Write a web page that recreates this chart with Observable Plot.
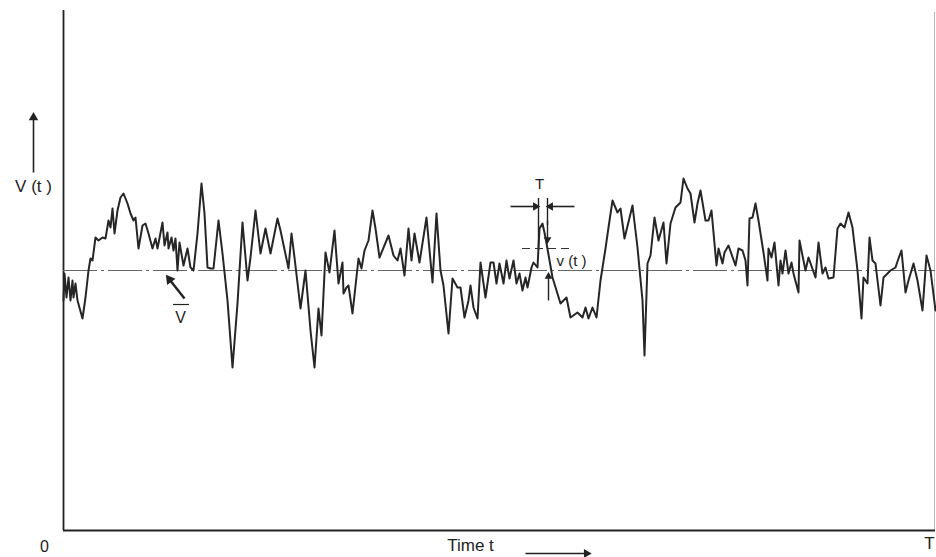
<!DOCTYPE html>
<html>
<head>
<meta charset="utf-8">
<script src="https://cdn.jsdelivr.net/npm/d3@7"></script>
<script src="https://cdn.jsdelivr.net/npm/@observablehq/plot@0.6"></script>
<style>
  html, body { margin: 0; padding: 0; background: #fff; }
  #chart svg { display: block; }
</style>
</head>
<body>
<div id="chart"></div>
<script>
// Time axis runs from 0 to T (arbitrary units), velocity V(t) in arbitrary units
const tMax = 872;
const vMax = 52;
const meanV = 26;

const times = [
  0,1,3,5,7,9,10,12,14,19,22,25,27,29,32,35,39,42,45,47,49,51,54,57,60,64,67,70,72,75,
  79,82,85,89,92,94,99,101,104,105,108,110,112,114,116,120,124,127,130,134,138,141,144,147,150,155,159,164,169,174,
  179,184,187,192,197,202,207,214,217,225,228,231,237,242,247,251,255,258,262,266,271,275,279,280,283,285,289,295,298,301,
  305,309,312,316,325,330,334,337,341,345,348,351,356,363,369,373,377,380,385,389,394,397,401,405,407,410,414,417,422,427,
  430,433,436,440,443,446,450,453,456,459,462,464,468,470,474,476,479,482,489,497,503,507,514,519,522,525,529,533,537,542,
  545,549,554,557,561,569,574,579,581,584,587,591,595,600,603,607,612,617,620,624,627,631,634,637,642,645,648,653,655,659,
  661,665,672,675,679,682,684,686,689,692,695,700,704,705,708,711,715,717,719,722,725,728,730,735,736,742,745,752,755,759,
  762,765,770,774,777,781,785,789,794,798,800,804,806,809,812,817,820,824,827,832,835,838,842,845,850,854,859,863,867,872
];
const velocity = [
  23.0,25.7,23.3,25.3,23.0,25.0,23.3,24.7,23.0,21.2,23.3,26.0,27.2,27.0,29.3,29.0,29.3,29.2,31.0,30.3,32.2,29.7,32.0,33.3,33.7,32.7,31.7,31.0,31.3,28.2,
  30.5,30.7,29.7,28.2,29.2,28.2,30.8,28.5,29.8,28.2,29.3,28.0,29.2,26.0,28.8,26.5,28.2,26.3,26.0,29.7,34.7,31.7,26.3,26.2,26.2,31.0,27.7,23.0,16.3,22.7,
  30.8,25.0,27.3,32.0,27.7,30.2,27.7,31.2,30.0,26.2,29.7,27.3,22.2,26.0,20.0,16.3,22.2,19.5,27.8,25.8,30.0,24.7,26.8,23.7,24.3,24.5,21.7,27.2,26.2,28.0,
  29.0,32.0,30.2,27.3,29.5,27.5,27.0,28.2,25.5,30.2,27.0,29.7,26.8,31.3,24.8,31.7,26.0,24.5,19.7,25.2,24.3,24.3,21.3,23.0,24.5,22.3,21.2,26.8,23.3,26.8,
  26.8,24.7,26.7,24.7,27.0,25.2,27.0,24.7,25.7,24.0,25.3,24.3,26.3,26.8,26.3,30.2,30.7,29.3,25.3,22.7,23.3,21.3,21.8,21.3,22.3,21.2,22.3,21.3,25.0,28.2,
  30.3,33.0,31.8,32.2,29.2,32.5,28.3,23.0,17.5,26.7,27.5,31.3,29.0,30.8,26.7,30.7,32.3,32.8,35.2,34.2,33.7,30.8,32.7,34.0,31.0,31.0,32.0,26.5,28.2,26.7,
  27.8,28.5,26.5,28.2,28.0,27.0,24.5,31.2,31.3,32.7,31.0,27.8,25.0,28.2,27.3,28.8,24.5,27.0,25.7,28.0,25.7,26.8,25.7,23.8,29.0,26.0,27.3,25.3,28.8,25.7,
  26.3,25.2,25.3,30.2,30.7,30.3,31.8,30.3,26.0,21.2,25.3,24.7,29.3,27.0,26.7,22.5,25.3,25.7,26.0,26.3,27.2,28.0,23.8,25.0,26.7,25.0,22.0,27.5,26.0,22.0
];

const signal = times.map((t, i) => ({t, v: velocity[i]}));

// Annotation labels
const labelVt = "V (t )";
const labelMean = "V";
const labelT = "T";
const labelFluct = "v (t )";
const labelOrigin = "0";
const labelTime = "Time t";
const labelEnd = "T";

// Annotation anchors (data units)
const gustStart = 475, gustEnd = 484;
const gustLevel = 28.2;

// arrows: shaft from (x1,y1) to (x2,y2), filled head at (x2,y2) with rotation angle
const arrows = [
  {x1: -30, y1: 35.8, x2: -30, y2: 41.3, rot: 0, w: 1.6, r: 4.5},          // V(t) arrow
  {x1: 121, y1: 23.2, x2: 106, y2: 25.1, rot: -37, w: 2.4, r: 5.5},        // mean arrow
  {x1: 447, y1: 32.4, x2: 472, y2: 32.4, rot: 90, w: 1.6, r: 3.5},         // T left
  {x1: 511, y1: 32.4, x2: 487, y2: 32.4, rot: -90, w: 1.6, r: 3.5},        // T right
  {x1: gustEnd, y1: 31.0, x2: gustEnd, y2: 29.1, rot: 180, w: 1.4, r: 3},  // down to dashed
  {x1: 485, y1: 23.0, x2: 485, y2: 25.4, rot: 0, w: 1.4, r: 3},            // up to mean
  {x1: 462, y1: -2.3, x2: 523, y2: -2.3, rot: 90, w: 1.6, r: 4}            // time arrow
];

const font = "Liberation Sans, Arial, Helvetica, sans-serif";
const ink = "#222";

const chart = Plot.plot({
  width: 936,
  height: 557,
  marginLeft: 63,
  marginRight: 1,
  marginTop: 10,
  marginBottom: 27,
  x: {domain: [0, tMax], axis: null},
  y: {domain: [0, vMax], axis: null},
  marks: [
    // frame lines
    Plot.ruleX([tMax - 1], {y1: 0, y2: vMax - 0.2, stroke: "#bbb", strokeWidth: 1}),
    Plot.ruleX([0], {y1: 0, y2: vMax, stroke: "#222", strokeWidth: 1.8}),
    Plot.ruleY([0], {x1: 0, x2: tMax, stroke: "#222", strokeWidth: 1.8}),
    // mean line
    Plot.ruleY([meanV], {x1: 0, x2: tMax, stroke: "#666", strokeWidth: 1, strokeDasharray: "34,4,3,4"}),
    // signal
    Plot.line(signal, {x: "t", y: "v", stroke: "#262626", strokeWidth: 2, strokeLinejoin: "round"}),

    // arrows (shafts + filled heads)
    Plot.link(arrows, {x1: "x1", y1: "y1", x2: "x2", y2: "y2", stroke: ink, strokeWidth: "w"}),
    Plot.dot(arrows, {x: "x2", y: "y2", symbol: "triangle", rotate: "rot", r: "r", fill: ink, stroke: "none"}),

    // V(t) label
    Plot.text([labelVt], {x: -30, y: 34.4, fontSize: 17, fontFamily: font, fill: ink}),

    // V-bar label
    Plot.text([labelMean], {x: 117, y: 21.3, fontSize: 16, fontFamily: font, fill: ink}),
    Plot.ruleY([22.6], {x1: 110, x2: 126, stroke: ink, strokeWidth: 1.2}),

    // integral time scale annotation
    Plot.text([labelT], {x: 476, y: 34.6, fontSize: 15, fontFamily: font, fill: ink}),
    Plot.ruleX([gustStart], {y1: 28.0, y2: 33.2, stroke: ink, strokeWidth: 1.4}),
    Plot.ruleX([gustEnd], {y1: 30.5, y2: 33.2, stroke: ink, strokeWidth: 1.4}),
    Plot.ruleY([gustLevel], {x1: 459, x2: 507, stroke: "#333", strokeWidth: 1.2, strokeDasharray: "8,5"}),
    Plot.text([labelFluct], {x: 493, y: 26.9, textAnchor: "start", fontSize: 15, fontFamily: font, fill: ink}),

    // bottom labels
    Plot.text([labelOrigin], {x: -19, y: -1.6, fontSize: 16, fontFamily: font, fill: ink}),
    Plot.text([labelTime], {x: 407, y: -1.55, fontSize: 17, fontFamily: font, fill: ink}),
    Plot.text([labelEnd], {x: 866, y: -1.3, fontSize: 17, fontFamily: font, fill: ink})
  ]
});
document.getElementById("chart").appendChild(chart);
</script>
</body>
</html>
